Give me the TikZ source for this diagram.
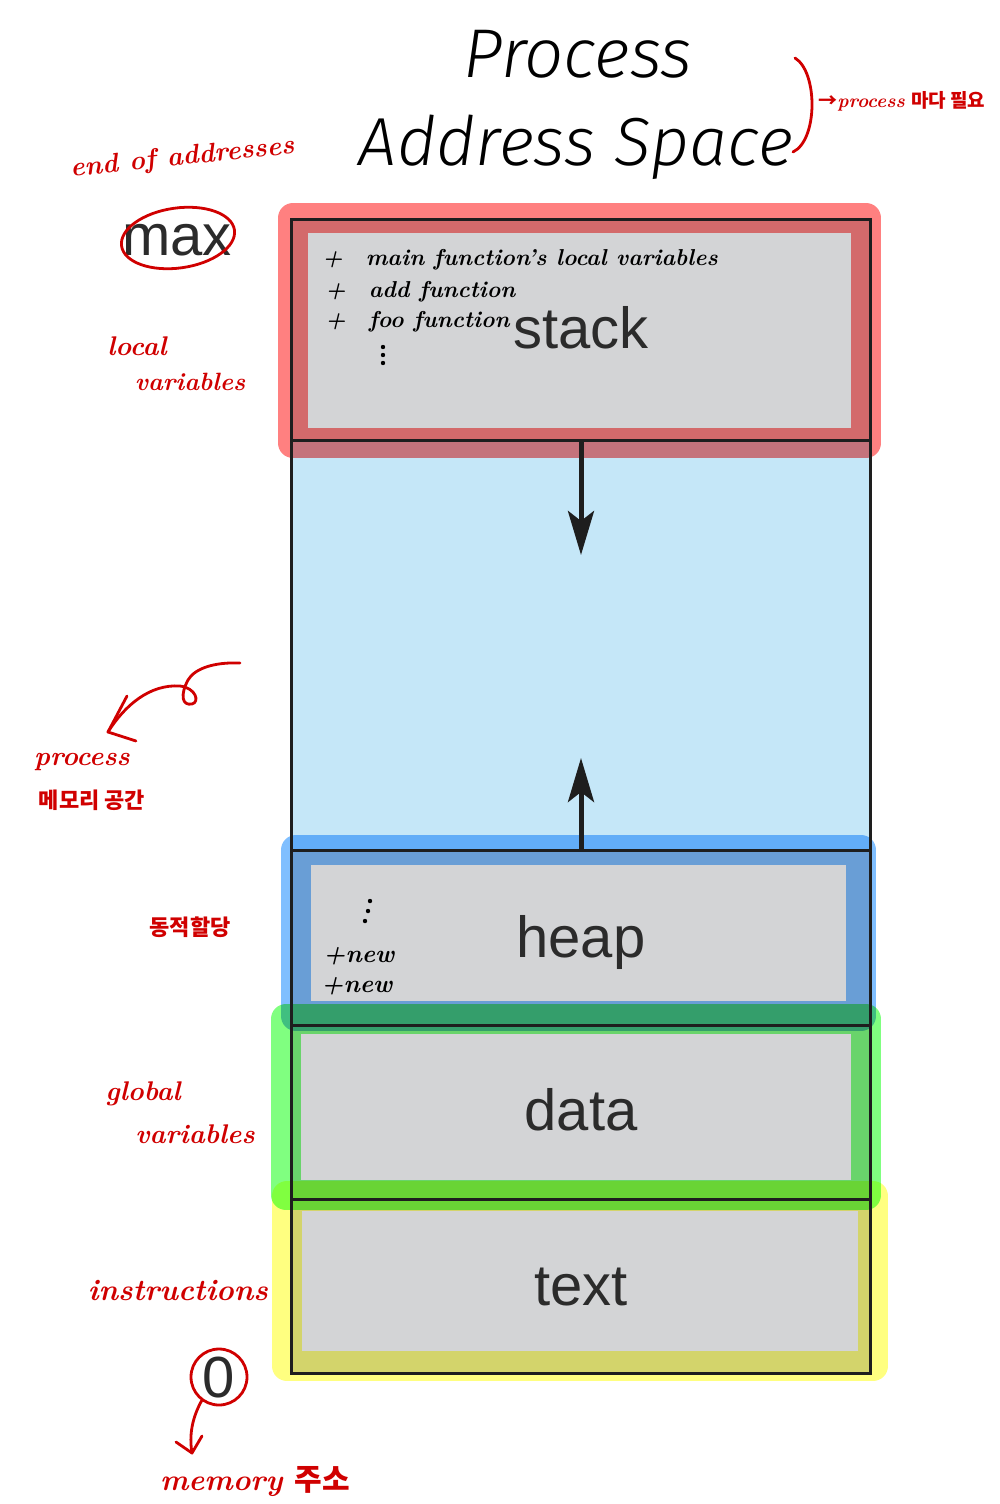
\documentclass[tikz,border=0pt]{standalone}
\usepackage{fontspec}
\usetikzlibrary{arrows.meta}
\newfontfamily\segfont{Liberation Sans}
\newfontfamily\kofont{Noto Sans CJK KR}
\newfontfamily\titlefont{Fira Sans}[ItalicFont={Fira Sans Light Italic}]
\definecolor{seggray}{HTML}{D3D4D6}
\definecolor{freeblue}{HTML}{C5E7F8}
\definecolor{boxblack}{HTML}{1E1E1E}
\definecolor{labelgray}{HTML}{2B2B2B}
\definecolor{notered}{HTML}{D00000}
\definecolor{hlred}{HTML}{FF8080}
\definecolor{hlblue}{HTML}{80BFFF}
\definecolor{hlgreen}{HTML}{80FF80}
\definecolor{hlyellow}{HTML}{FFFF80}
\begin{document}
\begin{tikzpicture}[x=0.5pt,y=-0.5pt,
    seglabel/.style={font=\segfont\fontsize{29}{32}\selectfont, text=labelgray, inner sep=0pt, anchor=base},
    memline/.style={line width=1.5pt, draw=boxblack},
    marker/.style={line width=15pt, line join=round},
    note/.style={text=notered, inner sep=0pt, anchor=base},
    pen/.style={draw=notered, line width=1.4pt, line cap=round, line join=round},
    ink/.style={text=black, inner sep=0pt, anchor=base west, font=\bfseries\itshape\fontsize{11.5}{14}\selectfont},
    growarrow/.style={line width=2.5pt, draw=boxblack, -{Stealth[length=22pt,width=13pt,inset=5pt]}}]
    \fill[white] (0,0) rectangle (1000,1504);
    \useasboundingbox (0,0) rectangle (1000,1504);
    % title
    \node[font=\titlefont\itshape\fontsize{34.5}{40}\selectfont, inner sep=0pt, anchor=base] (title1) at (578,78) {Process};
    \node[font=\titlefont\itshape\fontsize{34}{40}\selectfont, inner sep=0pt, anchor=base] (title2) at (576,165) {Address Space};
    % segments
    \fill[seggray] (291,219) rectangle (870,440);
    \fill[freeblue] (291,440) rectangle (870,850);
    \fill[seggray] (291,850) rectangle (870,1025);
    \fill[seggray] (291,1025) rectangle (870,1199);
    \fill[seggray] (291,1199) rectangle (870,1373);
    % highlighter
    \begin{scope}[blend mode=multiply]
        \draw[marker, draw=hlred] (293,218) rectangle (866,443);
        \draw[marker, draw=hlblue] (296,850) rectangle (861,1016);
        \draw[marker, draw=hlgreen] (286,1019) rectangle (866,1195);
        \draw[marker, draw=hlyellow] (287,1196) rectangle (873,1366);
    \end{scope}
    \draw[memline] (291,219) rectangle (870,1373);
    \draw[memline] (291,440) -- (870,440);
    \draw[memline] (291,850) -- (870,850);
    \draw[memline] (291,1025) -- (870,1025);
    \draw[memline] (291,1199) -- (870,1199);
    % segment labels
    \node[seglabel] (stack) at (581,348) {stack};
    \node[seglabel] (heap) at (581,957) {heap};
    \node[seglabel] (data) at (581,1130) {data};
    \node[seglabel] (text) at (581,1305) {text};
    \node[seglabel] (max) at (177,255) {max};
    \node[seglabel] (zero) at (219,1397) {0};
    % growth arrows
    \coordinate (stackend) at (581,440);
    \coordinate (stackgrow) at (581,555);
    \coordinate (heapend) at (581,850);
    \coordinate (heapgrow) at (581,758);
    \draw[growarrow] (stackend) -- (stackgrow);
    \draw[growarrow] (heapend) -- (heapgrow);
    % notes in the stack and heap
    \node[ink] (main) at (322,265) {+\quad main function's local variables};
    \node[ink] (add) at (325,297) {+\quad add function};
    \node[ink] (foo) at (325,327) {+\quad foo function};
    \foreach \y in {347,355,363} \fill (383,\y) circle [radius=2.2];
    \foreach \x/\y in {370/901,368/911,365/921} \fill (\x,\y) circle [radius=2.2];
    \node[ink, font=\bfseries\itshape\fontsize{12.5}{15}\selectfont] (new1) at (323,962) {+new};
    \node[ink, font=\bfseries\itshape\fontsize{12.5}{15}\selectfont] (new2) at (321,992) {+new};
    % red notes
    \draw[pen] (795,58) .. controls (818,72) and (818,140) .. (793,152);
    \node[note, anchor=base west, font=\fontsize{9.5}{12}\selectfont] (perproc) at (818,108) {{\kofont\bfseries →}\textbf{\textit{process}} {\kofont\bfseries 마다 필요}};
    \node[note, font=\bfseries\itshape\fontsize{13.5}{18}\selectfont, rotate=6] (endaddr) at (183,165) {end of addresses};
    \draw[pen, rotate around={8:(178,238)}] (178,238) ellipse [x radius=57, y radius=30];
    \node[note, font=\bfseries\itshape\fontsize{13.5}{16}\selectfont] (local1) at (137,355) {local};
    \node[note, font=\bfseries\itshape\fontsize{12.5}{16}\selectfont] (local2) at (190,390) {variables};
    \draw[pen] (240,663) .. controls (215,662) and (195,668) .. (188,680)
        .. controls (180,695) and (182,706) .. (192,704)
        .. controls (200,702) and (196,688) .. (180,686)
        .. controls (150,684) and (125,705) .. (108,732);
    \draw[pen] (127,696) -- (108,732) -- (136,741);
    \node[note, font=\bfseries\itshape\fontsize{13.5}{16}\selectfont] (proc) at (82,765) {process};
    \node[note, font=\kofont\bfseries\fontsize{11}{13}\selectfont] (procmem) at (92,808) {메모리 공간};
    \node[note, font=\kofont\bfseries\fontsize{11}{13}\selectfont] (dynalloc) at (190,935) {동적할당};
    \node[note, font=\bfseries\itshape\fontsize{13.5}{16}\selectfont] (glob1) at (143,1100) {global};
    \node[note, font=\bfseries\itshape\fontsize{13.5}{16}\selectfont] (glob2) at (195,1143) {variables};
    \node[note, font=\bfseries\itshape\fontsize{15}{18}\selectfont] (instr) at (178,1300) {instructions};
    \draw[pen] (219,1377) circle [radius=28];
    \draw[pen] (202,1400) .. controls (192,1418) and (189,1435) .. (192,1453);
    \draw[pen] (176,1442) -- (192,1453) -- (202,1436);
    \node[note, font=\bfseries\fontsize{15}{18}\selectfont] (memaddr) at (255,1490) {\textit{memory} {\kofont\bfseries\fontsize{15}{18}\selectfont 주소}};
\end{tikzpicture}
\end{document}
